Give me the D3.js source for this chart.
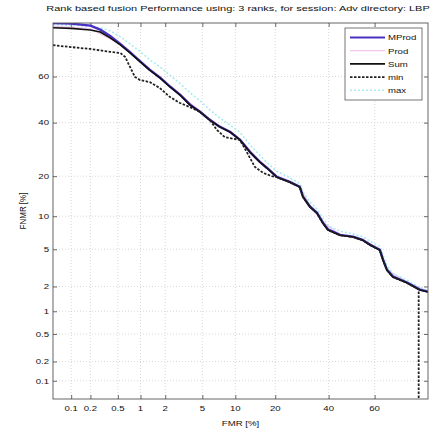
<!DOCTYPE html>
<html>
<head>
<meta charset="utf-8">
<script src="https://cdn.jsdelivr.net/npm/d3@7"></script>
<style>
  body { margin: 0; background: #fff; }
  text { font-family: "Liberation Sans", Arial, sans-serif; fill: #111; }
</style>
</head>
<body>
<svg id="chart" width="434" height="433"></svg>
<script>
// ---- chart text ----
const titleText = "Rank based fusion Performance using: 3 ranks, for session: Adv directory: LBP";
const xLabelText = "FMR [%]";
const yLabelText = "FNMR [%]";

// ---- tick values (percent) ----
const xTicks = [0.1, 0.2, 0.5, 1, 2, 5, 10, 20, 40, 60];
const yTicks = [0.1, 0.2, 0.5, 1, 2, 5, 10, 20, 40, 60];

// ---- legend ----
const seriesNames = ["MProd", "Prod", "Sum", "min", "max"];

// ---- DET curves: false match rate / false non-match rate, in percent ----
const sumFar  = [0.05, 0.1, 0.2, 0.28, 0.39, 0.54, 0.73, 1.0, 1.3, 1.73, 2.27, 2.93, 3.75, 4.74, 5.9, 7.3, 9.0, 10.9, 13.1, 15.6, 17.5, 20.5, 24.8, 28.4, 29.6, 32.3, 35.1, 37.6, 39.7, 44.9, 50.6, 54.9, 58, 62.2, 63.5, 65.1, 67.5, 72.9, 77.4, 80];
const sumFrr  = [78.5, 78.3, 77.8, 77.1, 75.1, 72.6, 69.6, 66, 62.7, 59.4, 55.5, 52, 47.6, 44.6, 41.1, 38.2, 36.1, 32.9, 28.2, 24.6, 22.6, 19.7, 18.2, 16.8, 14.2, 11.9, 10.6, 8.7, 7.6, 6.8, 6.55, 6.1, 5.5, 4.9, 3.9, 3.05, 2.56, 2.2, 1.82, 1.72];

const mprodFar = [0.05, 0.1, 0.2, 0.28, 0.39, 0.54, 0.73, 1.0, 1.3, 1.73, 2.27, 2.93, 3.75, 4.74, 5.9, 7.3, 9.0, 10.9, 13.1, 15.6, 17.5, 20.5, 24.8, 28.4, 29.6, 32.3, 35.1, 37.6, 39.7, 44.9, 50.6, 54.9, 58, 62.2, 63.5, 65.1, 67.5, 72.9, 77.4, 80];
const mprodFrr = [80, 79.8, 79.2, 77.9, 75.8, 73.0, 69.9, 66.2, 62.9, 59.6, 55.7, 52.2, 47.8, 44.7, 41.2, 38.3, 36.2, 33.0, 28.3, 24.7, 22.7, 19.8, 18.3, 16.9, 14.3, 12.0, 10.7, 8.8, 7.7, 6.85, 6.6, 6.15, 5.55, 4.95, 3.95, 3.1, 2.6, 2.22, 1.84, 1.74];

const prodFar = [0.05, 0.2, 0.54, 1.0, 1.73, 2.93, 4.74, 7.3, 10.9, 15.6, 20.5, 28.4, 32.3, 37.6, 44.9, 54.9, 62.2, 65.1, 72.9, 80];
const prodFrr = [79.0, 78.2, 72.9, 66.3, 59.7, 52.3, 44.8, 38.5, 33.2, 24.9, 20.0, 17.0, 12.1, 8.9, 6.9, 6.2, 5.0, 3.1, 2.25, 1.75];

const minFar = [0.05, 0.1, 0.2, 0.39, 0.54, 0.63, 0.73, 0.85, 0.985, 1.31, 1.73, 2.27, 2.93, 3.75, 4.74, 5.9, 6.9, 8.1, 10.9, 12.4, 14.3, 16.5, 19, 20.5, 24.8, 28.4, 29.6, 32.3, 35.1, 37.6, 39.7, 44.9, 50.6, 54.9, 58, 62.2, 63.5, 65.1, 67.5, 72.9, 77, 77];
const minFrr = [72.5, 71.8, 71.1, 70, 69.6, 68, 64, 59.8, 58.5, 57.6, 55, 51.1, 48.5, 46.7, 44.6, 41.1, 36.9, 34, 32.9, 28.2, 23.0, 21.0, 20.0, 19.7, 18.2, 16.8, 14.2, 11.9, 10.6, 8.7, 7.6, 6.8, 6.55, 6.1, 5.5, 4.9, 3.9, 3.05, 2.56, 2.2, 1.85, 0.03];

const maxFar = [0.05, 0.1, 0.2, 0.28, 0.39, 0.54, 0.73, 1.0, 1.3, 1.73, 2.27, 2.93, 3.75, 4.74, 5.9, 7.3, 9.0, 10.9, 13.1, 15.6, 17.5, 20.5, 24.8, 28.4, 29.6, 32.3, 35.1, 37.6, 39.7, 44.9, 50.6, 54.9, 58, 62.2, 63.5, 65.1, 67.5, 72.9, 77.4, 80];
const maxFrr = [79.5, 79.3, 79, 78.5, 77.5, 75.5, 73, 70, 67, 64, 60.5, 57, 53, 49.5, 45.5, 42, 39, 36, 31, 27, 24.5, 21.5, 19.5, 17.8, 15.5, 13, 11.5, 9.6, 8.3, 7.4, 7, 6.6, 6, 5.3, 4.4, 3.4, 2.8, 2.35, 1.95, 1.8];

// ---- inverse of the standard normal CDF (Acklam's rational approximation) ----
function probit(p) {
  const a = [-3.969683028665376e+01, 2.209460984245205e+02, -2.759285104469687e+02, 1.383577518672690e+02, -3.066479806614716e+01, 2.506628277459239e+00];
  const b = [-5.447609879822406e+01, 1.615858368580409e+02, -1.556989798598866e+02, 6.680131188771972e+01, -1.328068155288572e+01];
  const c = [-7.784894002430293e-03, -3.223964580411365e-01, -2.400758277161838e+00, -2.549732539343734e+00, 4.374664141464968e+00, 2.938163982698783e+00];
  const d = [7.784695709041462e-03, 3.224671290700398e-01, 2.445134137142996e+00, 3.754408661907416e+00];
  const pl = 0.02425, ph = 1 - pl;
  let q, r;
  if (p < pl) {
    q = Math.sqrt(-2 * Math.log(p));
    return (((((c[0]*q+c[1])*q+c[2])*q+c[3])*q+c[4])*q+c[5]) / ((((d[0]*q+d[1])*q+d[2])*q+d[3])*q+1);
  }
  if (p <= ph) {
    q = p - 0.5; r = q * q;
    return (((((a[0]*r+a[1])*r+a[2])*r+a[3])*r+a[4])*r+a[5])*q / (((((b[0]*r+b[1])*r+b[2])*r+b[3])*r+b[4])*r+1);
  }
  q = Math.sqrt(-2 * Math.log(1 - p));
  return -(((((c[0]*q+c[1])*q+c[2])*q+c[3])*q+c[4])*q+c[5]) / ((((d[0]*q+d[1])*q+d[2])*q+d[3])*q+1);
}

// ---- layout ----
const plot = { left: 53, right: 428, top: 23, bottom: 399 };
const textStretch = 1.2;   // labels are drawn slightly wide
const pMin = 0.05, pMax = 80;  // axis limits in percent

const svg = d3.select("#chart");

// normal-deviate scales
const x = d3.scaleLinear().domain([probit(pMin / 100), probit(pMax / 100)]).range([plot.left, plot.right]);
const y = d3.scaleLinear().domain([probit(pMin / 100), probit(pMax / 100)]).range([plot.bottom, plot.top]);
const px = v => x(probit(v / 100));
const py = v => y(probit(v / 100));

// grid
const grid = svg.append("g").attr("stroke", "#c8c8c8").attr("stroke-width", 0.7).attr("stroke-dasharray", "1,2");
grid.selectAll("line.vx").data(xTicks).join("line")
  .attr("x1", d => px(d)).attr("x2", d => px(d))
  .attr("y1", plot.top).attr("y2", plot.bottom);
grid.selectAll("line.hy").data(yTicks).join("line")
  .attr("y1", d => py(d)).attr("y2", d => py(d))
  .attr("x1", plot.left).attr("x2", plot.right);

// axes (tick marks only; labels drawn separately)
const xt = xTicks.map(t => probit(t / 100));
const yt = yTicks.map(t => probit(t / 100));
function styleAxis(g) {
  g.selectAll("text").remove();
  g.select(".domain").remove();
  g.selectAll(".tick line").attr("stroke", "#444").attr("stroke-width", 0.8);
}
svg.append("g").attr("transform", `translate(0,${plot.bottom})`)
  .call(d3.axisBottom(x).tickValues(xt).tickSize(-4).tickSizeOuter(0)).call(styleAxis);
svg.append("g").attr("transform", `translate(0,${plot.top})`)
  .call(d3.axisTop(x).tickValues(xt).tickSize(-4).tickSizeOuter(0)).call(styleAxis);
svg.append("g").attr("transform", `translate(${plot.left},0)`)
  .call(d3.axisLeft(y).tickValues(yt).tickSize(-4).tickSizeOuter(0)).call(styleAxis);
svg.append("g").attr("transform", `translate(${plot.right},0)`)
  .call(d3.axisRight(y).tickValues(yt).tickSize(-4).tickSizeOuter(0)).call(styleAxis);

// curves
svg.append("clipPath").attr("id", "plotclip").append("rect")
  .attr("x", plot.left).attr("y", plot.top)
  .attr("width", plot.right - plot.left).attr("height", plot.bottom - plot.top);

const line = d3.line().x(d => px(d[0])).y(d => py(d[1]));
const zipPts = (a, b) => a.map((v, i) => [v, b[i]]);

const series = [
  { name: "Prod",  pts: zipPts(prodFar, prodFrr),   color: "#f2c6ee", width: 1.2, dash: null },
  { name: "max",   pts: zipPts(maxFar, maxFrr),     color: "#a8ecf0", width: 1.6, dash: "2,2" },
  { name: "MProd", pts: zipPts(mprodFar, mprodFrr), color: "#4a2fc4", width: 2.4, dash: null },
  { name: "Sum",   pts: zipPts(sumFar, sumFrr),     color: "#111111", width: 1.6, dash: null },
  { name: "min",   pts: zipPts(minFar, minFrr),     color: "#222222", width: 1.8, dash: "2.5,1.5" }
];

const curves = svg.append("g").attr("clip-path", "url(#plotclip)");
curves.selectAll("path").data(series).join("path")
  .attr("d", d => line(d.pts))
  .attr("fill", "none")
  .attr("stroke", d => d.color)
  .attr("stroke-width", d => d.width)
  .attr("stroke-dasharray", d => d.dash)
  .attr("stroke-linejoin", "round");

// plot box
svg.append("rect")
  .attr("x", plot.left).attr("y", plot.top)
  .attr("width", plot.right - plot.left).attr("height", plot.bottom - plot.top)
  .attr("fill", "none").attr("stroke", "#555").attr("stroke-width", 0.9);

// stretched text helper
function label(g, tx, ty, str, size, anchor, rotate) {
  const t = g.append("text")
    .attr("transform", `translate(${tx},${ty})` + (rotate ? ` rotate(${rotate})` : "") + ` scale(${textStretch},1)`)
    .attr("text-anchor", anchor)
    .attr("font-size", size)
    .text(str);
  return t;
}

const labels = svg.append("g");
xTicks.forEach(t => label(labels, px(t), 411, String(t), 8, "middle"));
yTicks.forEach(t => label(labels, 49, py(t) + 2.8, String(t), 8, "end"));
label(labels, (plot.left + plot.right) / 2, 426, xLabelText, 8, "middle");
label(labels, 26, (plot.top + plot.bottom) / 2, yLabelText, 8, "middle", -90)
  .attr("transform", `translate(26,${(plot.top + plot.bottom) / 2}) rotate(-90) scale(1,${textStretch})`);

// title, sized to span the figure width
const title = svg.append("text")
  .attr("text-anchor", "middle").attr("font-size", 8)
  .text(titleText);
const tw = title.node().getComputedTextLength();
title.attr("transform", `translate(238,11) scale(${384 / tw},1)`);

// legend
const leg = svg.append("g");
const legTop = 28, legRow = 13.2;
leg.append("rect")
  .attr("x", 345).attr("y", legTop)
  .attr("width", 77).attr("height", legRow * seriesNames.length + 6)
  .attr("fill", "#fff").attr("stroke", "#555").attr("stroke-width", 0.8);
const byName = Object.fromEntries(series.map(s => [s.name, s]));
seriesNames.forEach((n, i) => {
  const s = byName[n];
  const yy = legTop + 9.5 + i * legRow;
  leg.append("line")
    .attr("x1", 350).attr("x2", 385).attr("y1", yy).attr("y2", yy)
    .attr("stroke", s.color).attr("stroke-width", Math.min(s.width, 1.8))
    .attr("stroke-dasharray", s.dash);
  label(leg, 388, yy + 2.8, n, 8, "start");
});
</script>
</body>
</html>
